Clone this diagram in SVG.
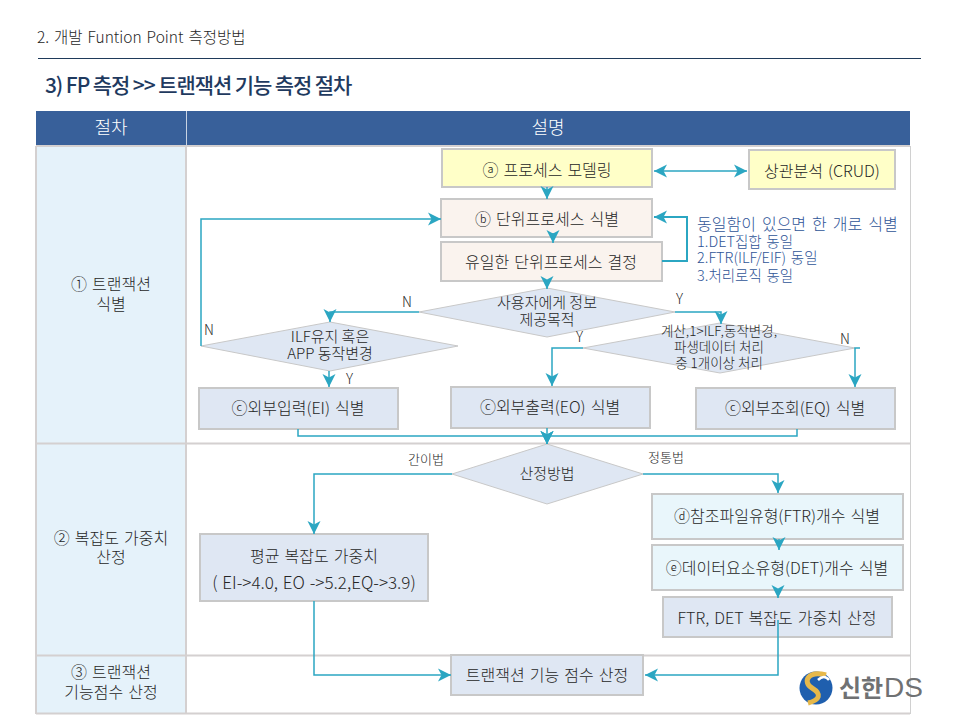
<svg xmlns="http://www.w3.org/2000/svg" width="960" height="720" viewBox="0 0 960 720">
<style>
text{font-family:"Noto Sans CJK KR","Noto Sans",sans-serif;fill:#262626;font-size:16px;font-weight:300;word-spacing:1.5px}
.m{text-anchor:middle}
.box{stroke:#c8c8c8;stroke-width:2}
.y{fill:#ffffc8}.p{fill:#faf3ee}.b{fill:#dfe7f3}.l{fill:#e9f6fb}
.c{fill:none;stroke:#2ba6c2;stroke-width:1.5}
.a{marker-end:url(#ah)}
.g{stroke:#d4d0d0;stroke-width:2;fill:none}
.n{fill:#2f5597;font-size:14.5px}
.s{font-size:13px}
.d{font-size:15px;word-spacing:0}
.t{font-size:13.5px;word-spacing:0}
.f{font-size:14px}
</style>
<defs>
<marker id="ah" markerUnits="userSpaceOnUse" markerWidth="16" markerHeight="16" refX="14" refY="8" orient="auto-start-reverse"><path d="M1,1.500 L14,8 L1,14.500 L4.500,8z" fill="#2ba6c2"/></marker>
</defs>
<rect width="960" height="720" fill="#fff"/>
<g id="titles">
<text x="37" y="43" style="font-size:15.500px;word-spacing:1.500px">2. 개발 Funtion Point 측정방법</text>
<line x1="38" y1="58.500" x2="921" y2="58.500" stroke="#1f3a5a" stroke-width="1"/>
<text x="45" y="93" style="font-size:21px;font-weight:500;fill:#1f3a5f;letter-spacing:-1.100px;word-spacing:0">3) FP 측정 &gt;&gt; 트랜잭션 기능 측정 절차</text>
</g>
<g id="table">
<rect x="36" y="111" width="874" height="35" fill="#38609a"/>
<rect x="36" y="146" width="150" height="568" fill="#e5f2fa"/>
<path class="g" d="M36,146H910M36,443.500H910M36,655.500H910M36,713.500H910M186,146V714M36,146V714"/>
<path d="M910.500,146V714" stroke="#d0d0d0" fill="none"/>
<line x1="186.500" y1="111" x2="186.500" y2="146" stroke="#c8d3e3"/>
<text x="111" y="134" class="m" style="fill:#fff;font-size:18px">절차</text>
<text x="548" y="134" class="m" style="fill:#fff;font-size:18px">설명</text>
<text x="111" y="290" class="m">① 트랜잭션</text>
<text x="111" y="310" class="m">식별</text>
<text x="111" y="544" class="m">② 복잡도 가중치</text>
<text x="111" y="563" class="m">산정</text>
<text x="111" y="678" class="m">③ 트랜잭션</text>
<text x="111" y="698" class="m">기능점수 산정</text>
</g>
<g id="a"><rect class="box y" x="442" y="149" width="210" height="38"/><text x="547" y="175.500" class="m">ⓐ 프로세스 모델링</text></g>
<g id="crud"><rect class="box y" x="749" y="150" width="146" height="39"/><text x="822" y="176.500" class="m">상관분석 (CRUD)</text></g>
<g id="b"><rect class="box p" x="441" y="199" width="211" height="38"/><text x="547" y="224.500" class="m">ⓑ 단위프로세스 식별</text></g>
<g id="unique"><rect class="box p" x="441" y="242" width="221" height="39"/><text x="551" y="268" class="m">유일한 단위프로세스 결정</text></g>
<g id="note">
<text x="697" y="230" class="n" style="font-size:16px;word-spacing:2.500px">동일함이 있으면 한 개로 식별</text>
<text x="697" y="247" class="n">1.DET집합 동일</text>
<text x="697" y="263" class="n">2.FTR(ILF/EIF) 동일</text>
<text x="697" y="281" class="n">3.처리로직 동일</text>
</g>
<g id="d1"><polygon class="b" stroke="#c8c8c8" points="419,312 547,288 675,312 547,337"/><text x="547" y="308" class="m d">사용자에게 정보</text><text x="547" y="325" class="m d">제공목적</text></g>
<g id="d2"><polygon class="b" stroke="#c8c8c8" points="201,346 330,322 458,346 330,371"/><text x="330" y="342" class="m d">ILF유지 혹은</text><text x="330" y="359" class="m d">APP 동작변경</text></g>
<g id="d3"><polygon class="b" stroke="#c8c8c8" points="583,348 720,323 855,348 720,373"/><text x="719" y="336" class="m t">계산,1&gt;ILF,동작변경,</text><text x="719" y="352" class="m t">파생데이터 처리</text><text x="719" y="368" class="m t">중 1개이상 처리</text></g>
<g id="ei"><rect class="box b" x="199" y="388" width="199" height="41"/><text x="298" y="414" class="m">ⓒ외부입력(EI) 식별</text></g>
<g id="eo"><rect class="box b" x="451" y="387" width="199" height="41"/><text x="550" y="413" class="m">ⓒ외부출력(EO) 식별</text></g>
<g id="eq"><rect class="box b" x="696" y="388" width="199" height="41"/><text x="795" y="414" class="m">ⓒ외부조회(EQ) 식별</text></g>
<g id="d4"><polygon class="b" stroke="#c8c8c8" points="452,474 547,444 643,474 547,504"/><text x="547" y="479" class="m d">산정방법</text></g>
<g id="avg"><rect class="box b" x="200" y="534" width="228" height="67"/><text x="314" y="562" class="m">평균 복잡도 가중치</text><text x="314" y="589" class="m" style="font-size:17px;word-spacing:1px">( EI-&gt;4.0, EO -&gt;5.2,EQ-&gt;3.9)</text></g>
<g id="ftr"><rect class="box l" x="652" y="494" width="251" height="45"/><text x="777" y="522" class="m">ⓓ참조파일유형(FTR)개수 식별</text></g>
<g id="det"><rect class="box l" x="652" y="545" width="251" height="45"/><text x="777" y="574" class="m">ⓔ데이터요소유형(DET)개수 식별</text></g>
<g id="calc"><rect class="box b" x="663" y="597" width="229" height="40"/><text x="777" y="624" class="m">FTR, DET 복잡도 가중치 산정</text></g>
<g id="score"><rect class="box b" x="451" y="655" width="192" height="40"/><text x="547" y="681" class="m">트랜잭션 기능 점수 산정</text></g>
<g id="labels">
<text x="402" y="307" class="f">N</text><text x="204" y="335" class="f">N</text><text x="346" y="384" class="f">Y</text><text x="676" y="304" class="f">Y</text><text x="576" y="342" class="f">Y</text><text x="840" y="344" class="f">N</text>
<text x="408" y="464" class="s">간이법</text><text x="648" y="462" class="s">정통법</text>
</g>
<g id="connectors">
<path class="c a" d="M547,187V199"/>
<path class="c a" d="M553,233V243"/>
<path class="c a" d="M547,281V289"/>
<path class="c a" d="M654,171H747" style="marker-start:url(#ah)"/>
<path class="c a" d="M662,261H687V217H654" style="stroke-width:2"/>
<path class="c a" d="M201,346V219H441"/>
<path class="c a" d="M419,312H330V322"/>
<path class="c a" d="M329,371V387"/>
<path class="c a" d="M675,312H721V324"/>
<path class="c a" d="M583,348H552V386"/>
<path class="c a" d="M860,348H855V387"/>
<path class="c a" d="M298,429V436H547V444"/>
<path class="c a" d="M797,429V436H547V444"/>
<path class="c a" d="M547,428V444"/>
<path class="c a" d="M452,474H314V534"/>
<path class="c a" d="M643,474H778V493"/>
<path class="c a" d="M779,539V550"/>
<path class="c a" d="M778,590V598"/>
<path class="c a" d="M778,620V675H645"/>
<path class="c a" d="M314,601V675H451"/>
</g>
<g id="logo">
<circle cx="816" cy="688" r="16.500" fill="#1f5fae"/>
<path d="M826,675C808,670 802,682 812,688C822,694 820,700 808,703" fill="none" stroke="#e6b84a" stroke-width="5"/>
<path d="M818,680C822,676 826,676 829,680" fill="none" stroke="#fff" stroke-width="2.500"/>
<text x="839" y="697" style="font-size:24px;font-weight:700;fill:#6f7173;word-spacing:0">신한</text>
<text x="884" y="697" style="font-size:28px;font-weight:400;fill:#6f7173;font-family:'Liberation Sans',sans-serif">DS</text>
</g>
</svg>
